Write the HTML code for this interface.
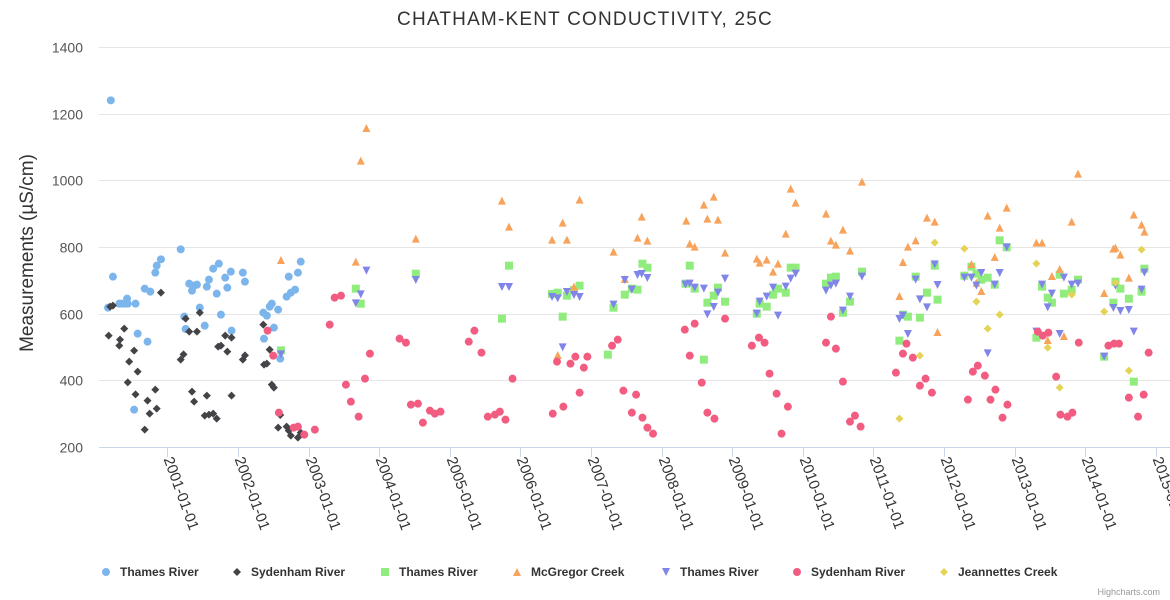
<!DOCTYPE html>
<html><head><meta charset="utf-8">
<style>
html,body{margin:0;padding:0;background:#fff;}
svg{display:block;font-family:"Liberation Sans","DejaVu Sans",sans-serif;}
</style></head>
<body>
<svg id="chart" width="1170" height="600" viewBox="0 0 1170 600" xmlns="http://www.w3.org/2000/svg">
<rect width="1170" height="600" fill="#fff"/>
<text x="585" y="25" text-anchor="middle" font-size="19" fill="#333" letter-spacing="1.2">CHATHAM-KENT CONDUCTIVITY, 25C</text>
<text transform="translate(33,253) rotate(-90)" text-anchor="middle" font-size="19" fill="#333">Measurements (µS/cm)</text>
<g id="grid"></g><g id="xaxis"></g><g id="marks"></g><g id="legend"></g>
<text x="1160" y="595" text-anchor="end" font-size="9" fill="#999">Highcharts.com</text>
</svg>
<script>
const yTicks=[200,400,600,800,1000,1200,1400];
const xTickYears=[2001,2002,2003,2004,2005,2006,2007,2008,2009,2010,2011,2012,2013,2014,2015];
const seriesNames=["Thames River","Sydenham River","Thames River","McGregor Creek","Thames River","Sydenham River","Jeannettes Creek"];
const seriesColors=["#7cb5ec","#434348","#90ed7d","#f7a35c","#8085e9","#f15c80","#e4d354"];
const seriesSymbols=["circle","diamond","square","triangle","triangle-down","circle","diamond"];

const s1Dates=[2000.20,2000.23,2000.16,2000.32,2000.35,2000.39,2000.43,2000.44,2000.55,2000.58,2000.53,2000.72,2000.68,2000.76,2000.83,2000.85,2000.91,2001.19,2001.24,2001.26,2001.31,2001.35,2001.38,2001.42,2001.46,2001.53,2001.56,2001.59,2001.65,2001.70,2001.73,2001.76,2001.82,2001.85,2001.90,2001.91,2002.07,2002.10,2002.36,2002.37,2002.41,2002.45,2002.48,2002.51,2002.57,2002.60,2002.69,2002.75,2002.81,2002.72,2002.85,2002.89];
const s1Values=[1240,711,618,630,630,630,645,630,630,540,312,516,675,666,723,744,763,793,591,554,690,669,684,687,618,564,681,702,735,660,750,597,708,678,726,549,723,696,603,525,594,621,630,558,612,465,651,663,672,711,723,756];

const s2Dates=[2000.17,2000.19,2000.23,2000.39,2000.32,2000.33,2000.53,2000.46,2000.58,2000.44,2000.55,2000.72,2000.83,2000.75,2000.85,2000.68,2000.91,2001.19,2001.23,2001.26,2001.31,2001.42,2001.46,2001.35,2001.38,2001.53,2001.59,2001.65,2001.70,2001.56,2001.72,2001.76,2001.82,2001.85,2001.91,2001.91,2002.07,2002.10,2002.36,2002.37,2002.41,2002.45,2002.48,2002.51,2002.60,2002.57,2002.69,2002.72,2002.75,2002.85,2002.89];
const s2Values=[534,621,624,555,504,522,489,456,426,394,358,339,372,300,315,252,663,462,478,585,546,546,603,366,336,294,297,300,285,354,501,504,534,486,528,354,462,475,567,447,450,492,387,378,296,258,261,249,234,228,243];

const s3Dates=[2002.61,2003.67,2003.74,2004.52,2005.74,2005.84,2006.45,2006.53,2006.60,2006.66,2006.76,2006.84,2007.24,2007.32,2007.48,2007.58,2007.66,2007.73,2007.80,2008.34,2008.40,2008.47,2008.60,2008.65,2008.74,2008.80,2008.90,2009.35,2009.39,2009.49,2009.58,2009.65,2009.76,2009.83,2009.90,2010.33,2010.40,2010.47,2010.57,2010.67,2010.84,2011.37,2011.42,2011.49,2011.60,2011.66,2011.76,2011.87,2011.91,2012.29,2012.39,2012.46,2012.53,2012.62,2012.72,2012.79,2012.89,2013.31,2013.39,2013.47,2013.53,2013.64,2013.70,2013.81,2013.90,2014.27,2014.40,2014.43,2014.50,2014.62,2014.69,2014.80,2014.84];
const s3Values=[490,675,630,720,585,744,659,663,591,654,671,684,477,618,657,675,672,750,738,690,744,675,462,633,654,678,636,600,630,621,657,675,663,738,738,690,708,711,603,636,726,519,597,591,711,588,663,744,642,714,741,720,702,708,687,820,799,528,681,648,633,717,660,672,702,471,633,696,675,645,396,666,735];

const s4Dates=[2002.61,2003.82,2003.74,2003.67,2004.52,2005.74,2005.84,2006.45,2006.60,2006.66,2006.84,2006.76,2006.53,2007.32,2007.48,2007.66,2007.72,2007.80,2008.35,2008.40,2008.47,2008.60,2008.65,2008.74,2008.80,2008.90,2009.35,2009.39,2009.49,2009.58,2009.65,2009.76,2009.83,2009.90,2010.33,2010.40,2010.47,2010.57,2010.67,2010.84,2011.37,2011.42,2011.49,2011.60,2011.76,2011.87,2011.91,2012.39,2012.46,2012.53,2012.62,2012.72,2012.79,2012.89,2013.31,2013.39,2013.47,2013.53,2013.64,2013.70,2013.81,2013.90,2014.27,2014.40,2014.43,2014.50,2014.62,2014.69,2014.80,2014.84];
const s4Values=[761,1157,1059,756,825,939,861,822,873,822,942,681,476,786,704,828,891,819,879,810,801,927,885,951,882,783,765,753,762,726,750,840,975,933,900,819,807,852,789,996,653,755,801,820,888,876,545,749,693,668,894,770,858,918,813,813,521,713,734,533,876,1020,662,795,798,777,708,897,867,846];

const s5Dates=[2002.61,2003.67,2003.74,2003.82,2004.52,2005.74,2005.84,2006.45,2006.53,2006.60,2006.66,2006.76,2006.84,2007.32,2007.48,2007.58,2007.66,2007.72,2007.80,2008.34,2008.40,2008.47,2008.60,2008.65,2008.74,2008.80,2008.90,2009.35,2009.39,2009.49,2009.58,2009.65,2009.76,2009.83,2009.90,2010.33,2010.40,2010.47,2010.57,2010.67,2010.84,2011.37,2011.42,2011.49,2011.60,2011.66,2011.76,2011.87,2011.91,2012.29,2012.39,2012.46,2012.53,2012.62,2012.72,2012.79,2012.89,2013.31,2013.39,2013.47,2013.53,2013.64,2013.70,2013.81,2013.90,2014.27,2014.40,2014.43,2014.50,2014.62,2014.69,2014.80,2014.84];
const s5Values=[478,631,658,729,701,680,680,650,646,499,665,656,650,627,701,672,716,719,707,687,690,678,675,598,620,663,705,600,636,651,678,594,681,705,720,669,684,690,609,651,711,584,594,539,702,643,619,748,686,708,708,684,722,481,687,722,799,546,687,619,660,539,708,687,690,471,617,684,608,611,546,672,723];

const s6Dates=[2002.42,2002.50,2002.58,2002.79,2002.85,2002.94,2003.09,2003.30,2003.37,2003.46,2003.53,2003.60,2003.71,2003.80,2003.87,2004.29,2004.38,2004.45,2004.55,2004.62,2004.72,2004.79,2004.87,2005.27,2005.35,2005.45,2005.54,2005.64,2005.71,2005.79,2005.89,2006.46,2006.61,2006.52,2006.71,2006.78,2006.90,2006.95,2006.84,2007.30,2007.38,2007.46,2007.64,2007.58,2007.73,2007.80,2007.88,2008.33,2008.47,2008.40,2008.57,2008.65,2008.75,2008.90,2009.28,2009.38,2009.46,2009.53,2009.63,2009.79,2009.70,2010.33,2010.40,2010.47,2010.57,2010.67,2010.74,2010.82,2011.32,2011.42,2011.47,2011.56,2011.66,2011.74,2011.83,2012.34,2012.41,2012.48,2012.58,2012.66,2012.73,2012.83,2012.90,2013.33,2013.40,2013.48,2013.59,2013.65,2013.75,2013.82,2013.91,2014.33,2014.41,2014.48,2014.62,2014.75,2014.83,2014.90];
const s6Values=[549,474,303,258,261,237,252,567,648,654,387,336,291,405,480,525,513,327,330,273,309,300,306,516,549,483,291,297,306,282,405,300,321,456,450,471,438,471,363,504,522,369,357,303,288,258,240,552,570,474,393,303,285,585,504,528,513,420,360,321,240,513,591,495,396,276,294,261,423,480,510,468,384,405,363,342,426,444,414,342,372,288,327,546,534,543,411,297,291,303,513,504,510,510,348,291,357,483];

const s7Dates=[2011.37,2011.66,2011.87,2012.29,2012.46,2012.62,2012.79,2013.31,2013.47,2013.64,2013.81,2014.27,2014.43,2014.62,2014.80];
const s7Values=[285,474,813,795,636,555,597,750,498,378,657,606,693,429,792];

const allDates=[s1Dates,s2Dates,s3Dates,s4Dates,s5Dates,s6Dates,s7Dates];
const allValues=[s1Values,s2Values,s3Values,s4Values,s5Values,s6Values,s7Values];

const NS="http://www.w3.org/2000/svg";
const PL=99,PR=1170,PT=47,PB=447;
function yScale(v){return PB-(v-200)*(PB-PT)/1200;}
function xScale(yr){return 167.3+(yr-2001)*70.6;}
function mk(tag,attrs,parent){const e=document.createElementNS(NS,tag);for(const k in attrs)e.setAttribute(k,attrs[k]);parent.appendChild(e);return e;}

function symbol(type,cx,cy,color,parent){
  let e;
  if(type==="circle"){e=mk("circle",{cx:cx,cy:cy,r:4,fill:color},parent);}
  else if(type==="square"){e=mk("rect",{x:cx-4,y:cy-4,width:8,height:8,fill:color},parent);}
  else if(type==="diamond"){e=mk("path",{d:`M${cx} ${cy-4}L${cx+4} ${cy}L${cx} ${cy+4}L${cx-4} ${cy}Z`,fill:color},parent);}
  else if(type==="triangle"){e=mk("path",{d:`M${cx} ${cy-4}L${cx+4} ${cy+4}L${cx-4} ${cy+4}Z`,fill:color},parent);}
  else {e=mk("path",{d:`M${cx-4} ${cy-4}L${cx+4} ${cy-4}L${cx} ${cy+4}Z`,fill:color},parent);}
  return e;
}

const grid=document.getElementById("grid");
yTicks.forEach(t=>{
  const y=Math.round(yScale(t))+0.5;
  if(t>200){
    const l=mk("line",{x1:PL,x2:PR,y1:y,y2:y,stroke:"#e6e6e6","stroke-width":1},grid);
    
    
  }
  const tx=mk("text",{x:83,y:y+5,"text-anchor":"end","font-size":14,fill:"#555"},grid);
  tx.textContent=t;
  
  
});

const xa=document.getElementById("xaxis");
const axl=mk("line",{x1:PL,x2:PR,y1:PB+0.5,y2:PB+0.5,stroke:"#ccd6eb","stroke-width":1},xa);


xTickYears.forEach(yr=>{
  const x=Math.round(xScale(yr))+0.5;
  const tk=mk("line",{x1:x,x2:x,y1:PB,y2:PB+10,stroke:"#ccd6eb","stroke-width":1},xa);
  
  
  const t=mk("text",{transform:`translate(${x-4},${PB+12}) rotate(70)`,"font-size":15,fill:"#333"},xa);
  t.textContent=yr+"-01-01";
  
  
});

const marks=document.getElementById("marks");
allDates.forEach((dates,si)=>{
  const g=mk("g",{},marks);
  
  
  dates.forEach((d,i)=>{
    const p=symbol(seriesSymbols[si],xScale(d),yScale(allValues[si][i]),seriesColors[si],g);
    
    
  });
});

const legendX=[106,237,385,517,666,797,944];
const lg=document.getElementById("legend");
seriesNames.forEach((n,i)=>{
  const g=mk("g",{},lg);
  
  
  symbol(seriesSymbols[i],legendX[i],572,seriesColors[i],g);
  const t=mk("text",{x:legendX[i]+14,y:576,"font-size":12,"font-weight":"bold",fill:"#333"},g);
  t.textContent=n;
});
</script>
</body></html>
